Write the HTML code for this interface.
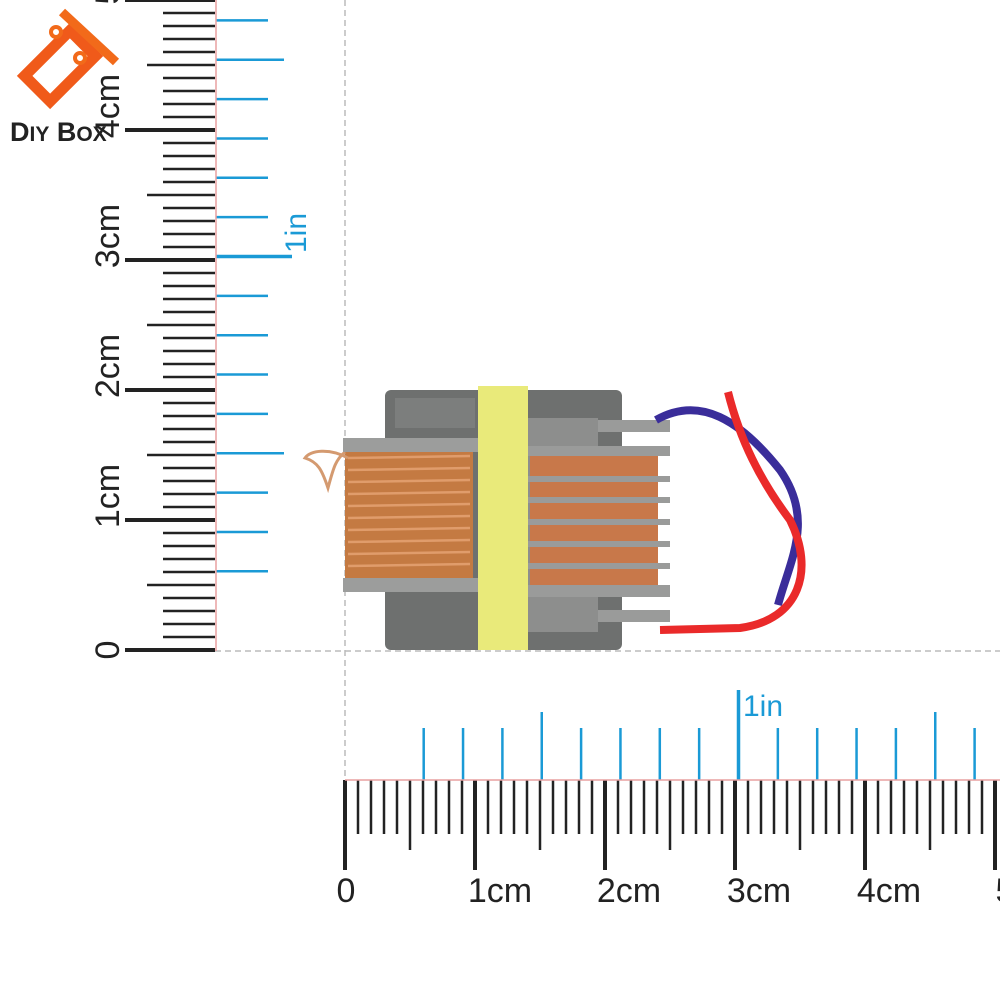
<!DOCTYPE html>
<html><head><meta charset="utf-8"><style>
html,body{margin:0;padding:0;background:#fff;width:1000px;height:1000px;overflow:hidden}
svg{display:block}
text{font-family:"Liberation Sans",sans-serif}
</style></head><body>
<svg id="s" width="1000" height="1000" viewBox="0 0 1000 1000" xmlns="http://www.w3.org/2000/svg">
<g id="ticks"></g>
<line x1="345" y1="0" x2="345" y2="780" stroke="#bbb" stroke-width="1.5" stroke-dasharray="6,4"/>
<line x1="215" y1="651" x2="1000" y2="651" stroke="#bbb" stroke-width="1.5" stroke-dasharray="6,4"/>
<line x1="345" y1="780" x2="1000" y2="780" stroke="#e8a0a0" stroke-width="1.5"/>
<line x1="216" y1="0" x2="216" y2="651" stroke="#e8a0a0" stroke-width="1.5"/>
<g font-size="34" fill="#222" text-anchor="middle">
<text x="346" y="902">0</text>
<text x="500" y="902">1cm</text>
<text x="629" y="902">2cm</text>
<text x="759" y="902">3cm</text>
<text x="889" y="902">4cm</text>
<text x="1005" y="902">5</text>
</g>
<text x="743" y="716" font-size="30" fill="#1a9ad6">1in</text>
<g font-size="34" fill="#222" text-anchor="middle">
<text transform="translate(119,650) rotate(-90)">0</text>
<text transform="translate(119,496) rotate(-90)">1cm</text>
<text transform="translate(119,366) rotate(-90)">2cm</text>
<text transform="translate(119,236) rotate(-90)">3cm</text>
<text transform="translate(119,106) rotate(-90)">4cm</text>
<text transform="translate(119,-5) rotate(-90)">5</text>
</g>
<text transform="translate(306,233) rotate(-90)" font-size="30" fill="#1a9ad6" text-anchor="middle">1in</text>
<!-- logo -->
<g transform="translate(60,66) rotate(45)">
<rect x="-18" y="-32" width="36" height="64" fill="none" stroke="#f05a1a" stroke-width="11"/>
</g>
<path d="M62 12 L116 62" stroke="#f26a1a" stroke-width="9" fill="none"/>
<circle cx="56" cy="32" r="5" fill="#fff" stroke="#f26a1a" stroke-width="4"/>
<circle cx="80" cy="58" r="5" fill="#fff" stroke="#f26a1a" stroke-width="4"/>
<text x="10" y="141" font-size="27" fill="#222" font-weight="bold">D<tspan font-size="21">IY</tspan> B<tspan font-size="21">OX</tspan></text>
<!-- transformer -->
<rect x="385" y="390" width="237" height="260" rx="6" fill="#6e706f"/>
<rect x="395" y="398" width="80" height="30" fill="#7c7e7d"/>
<rect x="528" y="418" width="70" height="214" fill="#8d8e8d"/>
<rect x="345" y="449" width="128" height="130" fill="#c47a42"/>
<g stroke="#e7a576" stroke-width="2.5" opacity="0.8">
<line x1="348" y1="458" x2="470" y2="456"/><line x1="348" y1="470" x2="470" y2="468"/>
<line x1="348" y1="482" x2="470" y2="480"/><line x1="348" y1="494" x2="470" y2="492"/>
<line x1="348" y1="506" x2="470" y2="504"/><line x1="348" y1="518" x2="470" y2="516"/>
<line x1="348" y1="530" x2="470" y2="528"/><line x1="348" y1="542" x2="470" y2="540"/>
<line x1="348" y1="554" x2="470" y2="552"/><line x1="348" y1="566" x2="470" y2="564"/>
</g>
<path d="M348 458 C330 448 310 450 305 458 C318 462 322 470 328 488 C333 470 335 460 345 452" stroke="#d49a70" stroke-width="3" fill="none"/>
<rect x="343" y="438" width="135" height="14" fill="#9c9d9c"/>
<rect x="343" y="578" width="135" height="14" fill="#9c9d9c"/>
<rect x="530" y="455" width="128" height="135" fill="#c8784a"/>
<g fill="#9a9b9a">
<rect x="598" y="420" width="72" height="12"/>
<rect x="528" y="446" width="142" height="10"/>
<rect x="528" y="476" width="142" height="6"/>
<rect x="528" y="497" width="142" height="6"/>
<rect x="528" y="519" width="142" height="6"/>
<rect x="528" y="541" width="142" height="6"/>
<rect x="528" y="563" width="142" height="6"/>
<rect x="528" y="585" width="142" height="12"/>
<rect x="598" y="610" width="72" height="12"/>
</g>
<rect x="478" y="386" width="50" height="264" fill="#e9ea7a"/>
<path d="M656 420 C700 395 740 420 780 470 C815 520 790 560 778 605" stroke="#3a2d9a" stroke-width="8" fill="none"/>
<path d="M728 392 C740 440 760 480 790 520 C815 570 800 620 740 628 L660 630" stroke="#ea2a2a" stroke-width="8" fill="none"/>
</svg>
<script>
var g=document.getElementById('ticks'),ns='http://www.w3.org/2000/svg';
function L(x1,y1,x2,y2,c,w){var l=document.createElementNS(ns,'line');l.setAttribute('x1',x1);l.setAttribute('y1',y1);l.setAttribute('x2',x2);l.setAttribute('y2',y2);l.setAttribute('stroke',c);l.setAttribute('stroke-width',w);g.appendChild(l);}
for(var i=0;i<=50;i++){var x=345+i*13;if(x>1000)break;var e=i%10==0?870:(i%5==0?850:834);L(x,780,x,e,'#222',i%10==0?4:2.5);}
for(var i=0;i<=50;i++){var y=650-i*13;if(y<-2)break;var e=i%10==0?125:(i%5==0?147:163);L(215,y,e,y,'#222',i%10==0?4:2.5);}
for(var k=2;k<=16;k++){var x=345+k*39.35;var t=k==10?690:(k%5==0?712:728);L(x,780,x,t,'#1a9ad6',k==10?3.5:2.5);}
for(var k=2;k<=16;k++){var y=650-k*39.35;if(y<0)break;var e=k==10?292:(k%5==0?284:268);L(216,y,e,y,'#1a9ad6',k==10?3.5:2.5);}
</script>
</body></html>
